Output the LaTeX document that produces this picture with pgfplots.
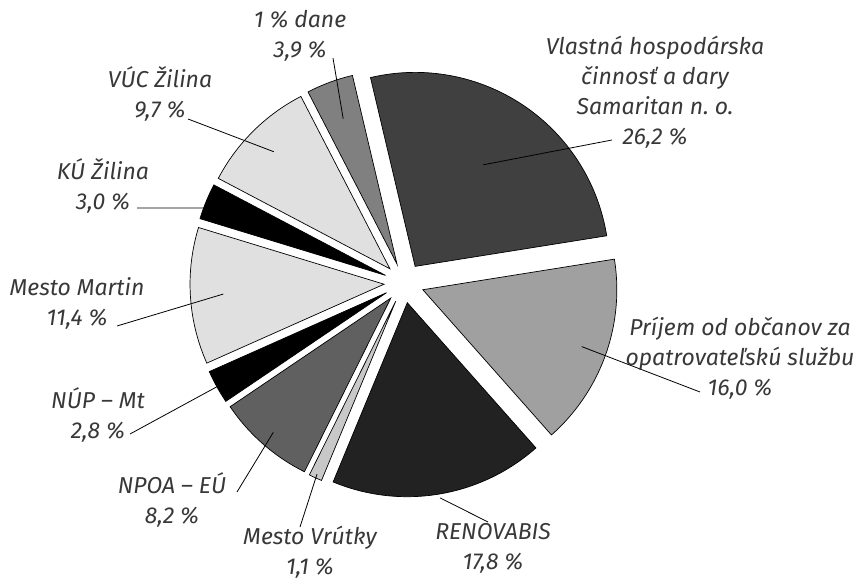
\documentclass[border=0pt]{standalone}
\usepackage{pgfplots}
\pgfplotsset{compat=1.18}
\usepackage{pgfplotstable}
\usepackage{fontspec}
\setmainfont{Fira Sans}

% value, gray level, leader start (fraction of radius), leader end (x,y)
\pgfplotstableread{
value gray lf ox oy
26.2 64  0.63 612 440
16.0 160 0.87 700 188
17.8 34  1.02 488 58
1.1  200 0.98 300 53
8.2  96  0.92 237 88
2.8  0   0.95 130 146
11.4 224 0.83 117 254
3.0  0   0.91 137 372
9.7  224 0.85 188 461
3.9  128 0.80 333 522
}\pietable

\begin{document}
\begin{tikzpicture}
\begin{axis}[
  width=857pt, height=580pt, scale only axis,
  xmin=0, xmax=857, ymin=0, ymax=580,
  hide axis, clip=false,
]
\path (axis cs:0,0) rectangle (axis cs:857,580);
\def\pieang{103.3}
\pgfplotsforeachungrouped \i in {0,...,9}{%
  \pgfplotstablegetelem{\i}{value}\of\pietable \let\pval\pgfplotsretval
  \pgfplotstablegetelem{\i}{gray}\of\pietable \let\gval\pgfplotsretval
  \pgfplotstablegetelem{\i}{lf}\of\pietable \let\lfr\pgfplotsretval
  \pgfplotstablegetelem{\i}{ox}\of\pietable \let\oxv\pgfplotsretval
  \pgfplotstablegetelem{\i}{oy}\of\pietable \let\oyv\pgfplotsretval
  \pgfmathsetmacro\sweep{\pval*360/100.1}%
  \pgfmathsetmacro\endang{\pieang-\sweep}%
  \pgfmathsetmacro\md{\pieang-\sweep/2}%
  \pgfmathsetmacro\ax{404+20*cos(\md)}%
  \pgfmathsetmacro\ay{297+20*sin(\md)}%
  \pgfmathsetmacro\lx{\ax+\lfr*194*cos(\md)}%
  \pgfmathsetmacro\ly{\ay+\lfr*194*sin(\md)}%
  \edef\cmd{%
    \noexpand\filldraw[fill={rgb,255:red,\gval;green,\gval;blue,\gval}, draw=black, line width=0.7pt]
      (axis cs:\ax,\ay) -- ++(\pieang:194pt) arc[start angle=\pieang, end angle=\endang, radius=194pt] -- cycle;
    \noexpand\draw[black, line width=0.8pt] (axis cs:\lx,\ly) -- (axis cs:\oxv,\oyv);
  }%
  \cmd
  \xdef\pieang{\endang}%
}
\tikzset{lbl/.style={align=center, text=black!78, font=\fontsize{23}{30}\selectfont\itshape, inner sep=0pt}}
\node[lbl] at (axis cs:300,544) {1 \% dane\\3,9 \%};
\node[lbl] at (axis cs:655,488) {Vlastná hospodárska\\činnosť a dary\\Samaritan n.~o.\\26,2 \%};
\node[lbl] at (axis cs:160,486) {VÚC Žilina\\9,7 \%};
\node[lbl] at (axis cs:103,394) {KÚ Žilina\\3,0 \%};
\node[lbl] at (axis cs:77,277) {Mesto Martin\\11,4 \%};
\node[lbl] at (axis cs:98,165) {NÚP – Mt\\2,8 \%};
\node[lbl] at (axis cs:172,80) {NPOA – EÚ\\8,2 \%};
\node[lbl] at (axis cs:310,28) {Mesto Vrútky\\1,1 \%};
\node[lbl] at (axis cs:493,32) {RENOVABIS\\17,8 \%};
\node[lbl] at (axis cs:740,222) {Príjem od občanov za\\opatrovateľskú službu\\16,0 \%};
\end{axis}
\end{tikzpicture}
\end{document}
